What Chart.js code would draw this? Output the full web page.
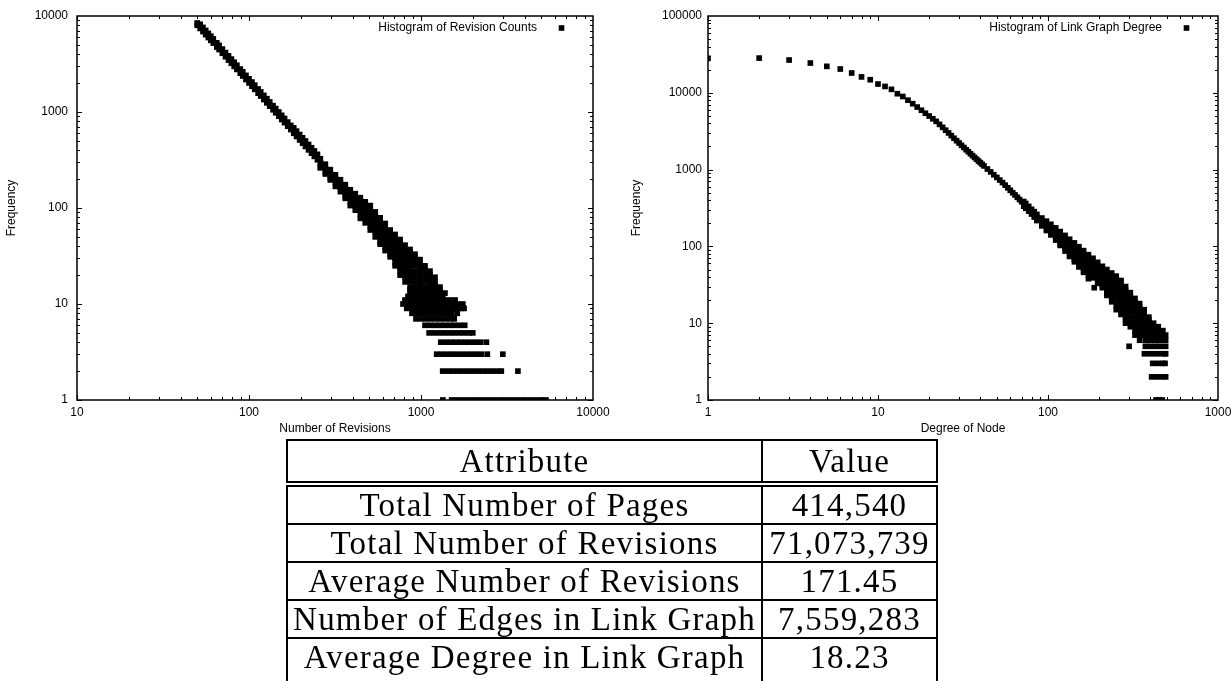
<!DOCTYPE html>
<html>
<head>
<meta charset="utf-8">
<script src="https://cdn.jsdelivr.net/npm/chart.js@4.4.1/dist/chart.umd.min.js"></script>
<style>
html, body { margin: 0; padding: 0; background: #fff; }
body { width: 1231px; height: 681px; position: relative; overflow: hidden; }
canvas { position: absolute; top: 0; }
#revChart { left: 0; }
#degChart { left: 620px; }
.tbl { position: absolute; left: 286px; width: 652px; border: 2px solid #000; box-sizing: border-box;
       font-family: "Liberation Serif", "Times New Roman", serif; font-size: 33px; letter-spacing: 1.2px; color: #000; }
.tbl * { box-sizing: border-box; }
#statHead { top: 439px; }
#statBody { top: 485px; border-bottom: 0; }
.row { display: flex; height: 38px; }
#statHead .row { height: 40px; }
#statBody .row:first-child { height: 36px; }
#statBody .row + .row { border-top: 2px solid #000; }
#statBody .row:last-child { height: 48px; }
#statBody .row:last-child .cell { padding-bottom: 10px; }
.cell { display: flex; align-items: center; justify-content: center; white-space: nowrap; }
.cell.a { width: 475px; border-right: 2px solid #000; }
.cell.v { flex: 1; }
</style>
</head>
<body>
<canvas id="revChart" width="620" height="440"></canvas>
<canvas id="degChart" width="611" height="440"></canvas>
<div id="statHead" class="tbl"></div>
<div id="statBody" class="tbl"></div>
<script>
// ---- revision count histogram (left) ----
// thin part of the band: upper and lower edge of the run of points
const revThinX  = [50,52,54,56,58,60,62,65,67,70,73,76,79,82,85,89,92,96,100,104,108,113,117,122,127,132,138,143,149,155,161,168,175,182,189,197,205,213,222,231,240,250];
const revThinHi = [8450,8203,7607,7073,6594,6161,5771,5250,4941,4527,4162,3840,3554,3299,3070,2800,2621,2407,2218,2051,1902,1737,1620,1490,1376,1273,1164,1085,1000,923,856,785,725,683,632,582,538,499,459,424,393,362];
const revThinLo = [8000,7421,6883,6399,5966,5575,5221,4750,4471,4095,3766,3474,3216,2985,2778,2534,2371,2177,2006,1855,1720,1571,1466,1348,1245,1151,1054,981,904,835,774,711,656,600,556,511,473,438,403,372,345,318];
// wide part: several frequencies seen at about the same revision count
const revBandX = [260,278,297,318,340,363,388,415,444,474,507,542,579,619,662,707,756,808,864,923,987,1055,1128,1206,1289,1378];
const revBandY = [
  [326,296,269,262],[286,260,236,226],[251,228,207,196],[222,202,184,168],[197,179,163,148],
  [175,159,145,132,126],[155,141,128,116,106],[141,128,116,105,95],[128,116,105,95,86,78],
  [116,105,95,86,78,70],[106,96,87,79,72,65,59],[91,83,75,68,62,56,50],[79,72,65,59,54,49,44,42],
  [69,63,57,52,47,43,39,36],[59,54,49,44,40,36,33,31],[53,48,44,40,36,33,30,27,25],
  [47,43,39,35,32,29,26,24,22,20],[41,37,34,31,28,25,23,21,19,17],[37,34,31,28,25,23,21,19,17,15,14,13],
  [33,30,27,25,22,20,18,16,15,14,13],[29,26,24,22,20,18,16,15,14,13],[25,23,21,19,17,15,14,13],
  [22,20,18,16,15,14,13],[19,17,16,15,14,13],[15,14,13],[13]
];
// low frequencies form horizontal runs
const revRowF = [1,2,3,4,5,6,7,8,9,10,11,12];
const revRowX = [
  [1340,1507,1611,1722,1841,1968,2104,2249,2404,2570,2747,2937,3139,3356,3587,3835,4099,4382,4684,5008,5330],
  [1337,1429,1528,1633,1746,1866,1995,2133,2280,2437,2605,2785,2930,3660],
  [1233,1318,1409,1506,1610,1721,1840,1967,2103,2248,2430,2990],
  [1303,1393,1489,1592,1702,1819,1945,2079,2222,2400],
  [1115,1192,1274,1362,1456,1556,1664,1779,1901,2000],
  [1055,1128,1206,1289,1378,1473,1575,1684,1795],
  [935,1000,1069,1142,1221,1305,1395,1491,1560],
  [886,947,1012,1082,1157,1237,1322,1413,1511,1625],
  [826,883,944,1009,1079,1153,1233,1318,1409,1506,1610,1721,1780],
  [786,840,898,960,1026,1097,1173,1254,1340,1433,1532,1637,1750],
  [807,863,922,986,1054,1127,1204,1287,1376,1471,1578],
  [840,898,960,1026,1097,1173,1254,1340]
];
const revXTicks = [10, 100, 1000, 10000];
const revYTicks = [1, 10, 100, 1000, 10000];

// ---- link graph degree histogram (right) ----
const degX = [1,2,3,4,5,6,7,8,9,10,11,12,13,14,15,16,17,18,19,20,21,22,23,24,25,26,27,28,29,30,31,32,33,34,35,36,37,38,39,40,41,42,44,46,48,50,52,54,56,58,60,62,64,66,68,70];
const degY = [28100,28300,26700,24400,22100,20400,18100,16100,14800,13000,12100,11100,9730,8950,8020,7210,6520,5930,5420,4980,4590,4250,3880,3550,3260,3000,2770,2560,2380,2220,2070,1940,1815,1710,1607,1520,1439,1365,1294,1231,1172,1117,1018,933,857,791,731,678,627,580,538,500,467,436,408,382];
const degBandX = [72,74,77,80,83,86,92,98,104,111,118,126,134,143,152,162,173,184,196,209,222,237,252,269,286,305,325,346,368,392,418,445,474,492];
const degBandY = [
  [384,334],[362,314],[332,288],[304,264],[283,241],[261,238,217],[234,208,185],[213,189,168,161],
  [194,172,153,141],[174,154,136,121],[156,138,122,108,103],[139,123,109,97,87],[124,110,97,86,76,74],
  [111,98,87,77,68,63],[99,88,78,69,61,54],[88,78,69,61,54,48,46],[78,69,61,54,48,43,38],
  [70,62,55,49,43,39],[62,55,49,43,38,33],[55,49,43,38,34,30,29],[50,44,39,35,31,27,25,23],
  [45,40,35,31,28,25,22,19],[41,36,32,28,25,22,20,17,15],[36,32,28,25,22,20,18,16,14,13],
  [30,27,24,21,19,17,15,13,12,11,10],[25,22,20,18,16,14,12,11,10,9],[21,19,17,15,13,12,11,10,9,8,7],
  [18,16,14,13,12,11,10,9,8,7,6],[15,13,12,11,10,9,8,7],[12,11,10,9,8,7],[10,9,8,7],[9,8,7],[8,7],[7]
];
const degRowF = [1,2,3,4,5,6];
const degRowX = [
  [432,450,470],
  [407,435,465,492],
  [413,442,473,488],
  [369,395,423,452,484,492],
  [300,374,400,428,458,492],
  [374,400,428,458,492]
];
const degOutX = [187];
const degOutY = [29];
const degXTicks = [1, 10, 100, 1000];
const degYTicks = [1, 10, 100, 1000, 10000, 100000];

// ---- table ----
const statNames = ['Total Number of Pages', 'Total Number of Revisions', 'Average Number of Revisions', 'Number of Edges in Link Graph', 'Average Degree in Link Graph'];
const statValues = ['414,540', '71,073,739', '171.45', '7,559,283', '18.23'];

// helpers to turn the lists into {x, y} points
const pairs = (xs, ys) => xs.map((x, i) => ({x: x, y: ys[i]}));
const columns = (xs, lists) => xs.flatMap((x, i) => lists[i].map(y => ({x: x, y: y})));
const rows = (fs, lists) => fs.flatMap((f, i) => lists[i].map(x => ({x: x, y: f})));

Chart.defaults.font.family = '"Liberation Sans", Arial, Helvetica, sans-serif';
Chart.defaults.font.size = 12;
Chart.defaults.color = '#000';

function logSteps(scale) {
  const out = [];
  for (let d = scale.min; d < scale.max; d *= 10) {
    for (let m = 1; m < 10; m++) out.push([d * m, m === 1]);
  }
  return out;
}

// gnuplot-like box with inward ticks on all four sides
const frameTicks = {
  id: 'frameTicks',
  beforeDatasetsDraw(chart) {
    const {ctx, chartArea: a, scales} = chart;
    ctx.save();
    ctx.strokeStyle = '#000';
    ctx.lineWidth = 1;
    ctx.beginPath();
    logSteps(scales.x).forEach(([v, major]) => {
      const p = Math.round(scales.x.getPixelForValue(v)) + 0.5;
      const len = major ? 5 : 3;
      ctx.moveTo(p, a.bottom); ctx.lineTo(p, a.bottom - len);
      ctx.moveTo(p, a.top); ctx.lineTo(p, a.top + len);
    });
    logSteps(scales.y).forEach(([v, major]) => {
      const p = Math.round(scales.y.getPixelForValue(v)) + 0.5;
      const len = major ? 5 : 3;
      ctx.moveTo(a.left, p); ctx.lineTo(a.left + len, p);
      ctx.moveTo(a.right, p); ctx.lineTo(a.right - len, p);
    });
    ctx.stroke();
    ctx.lineWidth = 1.5;
    ctx.strokeRect(a.left, a.top, a.right - a.left, a.bottom - a.top);
    ctx.restore();
  }
};

// key in the top right corner: text first, then the sample square
const keyBox = {
  id: 'keyBox',
  afterDraw(chart) {
    const {ctx, chartArea: a} = chart;
    const ds = chart.data.datasets[0];
    ctx.save();
    ctx.font = '12px "Liberation Sans", Arial, sans-serif';
    ctx.fillStyle = '#000';
    ctx.textAlign = 'right';
    ctx.textBaseline = 'middle';
    ctx.fillText(ds.label, a.right - 56, a.top + 12);
    ctx.fillRect(a.right - 31.5 - 2.8, a.top + 12 - 2.8, 5.6, 5.6);
    ctx.restore();
  }
};

function makeChart(id, c) {
  return new Chart(document.getElementById(id), {
    type: 'scatter',
    data: {
      datasets: [{
        label: c.label,
        data: c.points,
        pointStyle: 'rect',
        pointRadius: 4,
        pointBorderWidth: 0,
        backgroundColor: '#000',
        borderColor: '#000'
      }]
    },
    options: {
      responsive: false,
      animation: false,
      events: [],
      layout: {padding: {left: 0, top: 16, right: c.padRight, bottom: 0}},
      plugins: {legend: {display: false}, tooltip: {enabled: false}},
      scales: {
        x: {
          type: 'logarithmic', min: c.xTicks[0], max: c.xTicks[c.xTicks.length - 1],
          grid: {display: false, drawTicks: false}, border: {display: false},
          ticks: {padding: 5, maxRotation: 0, autoSkip: false, callback: v => String(v)},
          afterBuildTicks: s => { s.ticks = c.xTicks.map(v => ({value: v})); },
          afterFit: s => { s.height = 40; s.paddingLeft = 0; s.paddingRight = 0; },
          title: {display: true, text: c.xTitle, padding: {top: 4, bottom: 4}}
        },
        y: {
          type: 'logarithmic', min: c.yTicks[0], max: c.yTicks[c.yTicks.length - 1],
          grid: {display: false, drawTicks: false}, border: {display: false},
          ticks: {padding: c.yTickPad, autoSkip: false, callback: v => String(v)},
          afterBuildTicks: s => { s.ticks = c.yTicks.map(v => ({value: v})); },
          afterFit: s => { s.width = c.yWidth; s.paddingTop = 0; s.paddingBottom = 0; },
          title: {display: true, text: 'Frequency', padding: {top: c.yTitlePad, bottom: 4}}
        }
      }
    },
    plugins: [frameTicks, keyBox]
  });
}

makeChart('revChart', {
  label: 'Histogram of Revision Counts',
  points: [].concat(pairs(revThinX, revThinHi), pairs(revThinX, revThinLo), columns(revBandX, revBandY), rows(revRowF, revRowX)),
  xTicks: revXTicks, yTicks: revYTicks,
  xTitle: 'Number of Revisions',
  yWidth: 77, padRight: 27, yTickPad: 9, yTitlePad: 4
});

makeChart('degChart', {
  label: 'Histogram of Link Graph Degree',
  points: [].concat(pairs(degX, degY), columns(degBandX, degBandY), rows(degRowF, degRowX), pairs(degOutX, degOutY)),
  xTicks: degXTicks, yTicks: degYTicks,
  xTitle: 'Degree of Node',
  yWidth: 88, padRight: 13, yTickPad: 6, yTitlePad: 9
});

// table: header box and body box separated by the double rule
function cellRow(a, v) {
  return '<div class="row"><div class="cell a">' + a + '</div><div class="cell v">' + v + '</div></div>';
}
document.getElementById('statHead').innerHTML = cellRow('Attribute', 'Value');
document.getElementById('statBody').innerHTML = statNames.map((n, i) => cellRow(n, statValues[i])).join('');
</script>
</body>
</html>
